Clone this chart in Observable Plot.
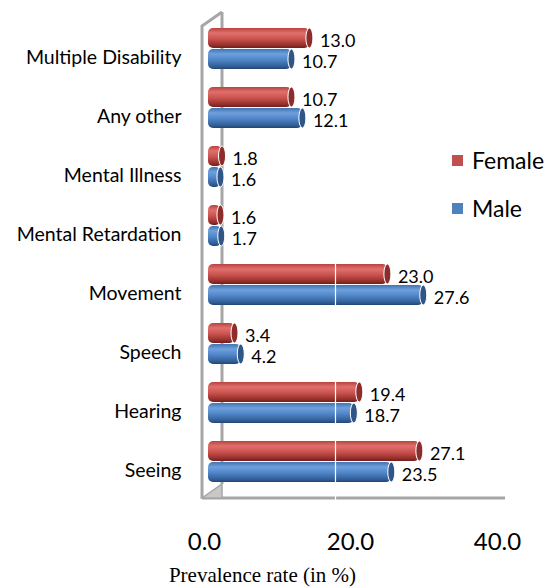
<!DOCTYPE html>
<html>
<head>
<meta charset="utf-8">
<script src="https://cdn.jsdelivr.net/npm/d3@7"></script>
<script src="https://cdn.jsdelivr.net/npm/@observablehq/plot@0.6"></script>
<style>
  body { margin: 0; background: #fff; }
  #wrap { position: relative; width: 552px; height: 587px; font-family: Lato, "Open Sans", sans-serif; }
  #legend { position: absolute; left: 452px; top: 136px; font-size: 23px; color: #000; }
  #legend .item { display: flex; align-items: center; height: 48px; }
  #legend .sw { width: 11px; height: 11px; margin-right: 9px; }
  #caption { position: absolute; left: 0; width: 525px; top: 563px; text-align: center;
             font-family: "Liberation Serif", "Times New Roman", serif; font-size: 21px; }
</style>
</head>
<body>
<div id="wrap">
  <div id="chart"></div>
  <div id="legend"></div>
  <div id="caption">Prevalence rate (in %)</div>
</div>
<script>
const categories = ["Multiple Disability", "Any other", "Mental Illness", "Mental Retardation",
                    "Movement", "Speech", "Hearing", "Seeing"];
const female = [13.0, 10.7, 1.8, 1.6, 23.0, 3.4, 19.4, 27.1];
const male   = [10.7, 12.1, 1.6, 1.7, 27.6, 4.2, 18.7, 23.5];
const xTicks = [0, 20, 40];
const seriesNames = ["Female", "Male"];
const seriesColors = ["#c0504d", "#4f81bd"];

const fData = categories.map((c, i) => ({cat: c, v: female[i]}));
const mData = categories.map((c, i) => ({cat: c, v: male[i]}));

const W = 552, H = 560;
const tickFont = {fontSize: 24, fontFamily: "Lato, sans-serif"};

const chart = Plot.plot({
  width: W, height: H,
  marginLeft: 208, marginRight: 32, marginTop: 10, marginBottom: 60,
  style: {fontFamily: "Lato, sans-serif", color: "#000", background: "transparent", overflow: "visible"},
  x: {domain: [0, 40], axis: null},
  y: {domain: categories, paddingInner: 0.305, paddingOuter: 0.305, axis: null},
  marks: [
    Plot.axisY({tickSize: 0, tickPadding: 27, dy: 9, fontSize: 19.5, label: null}),
    // bars
    Plot.barX(fData, {x: "v", y: "cat", insetBottom: 21, fill: "url(#gF)", rx: 5}),
    Plot.barX(mData, {x: "v", y: "cat", insetTop: 21, fill: "url(#gM)", rx: 5}),
    // white gridline
    Plot.ruleX([20], {stroke: "#fff", strokeWidth: 1.2, dx: -29}),
    // end caps
    Plot.barX(fData, {x1: d => d.v - 0.45, x2: d => d.v + 0.45, y: "cat", insetBottom: 21,
      fill: "#8c2d2b", stroke: "#fff", strokeWidth: 1, rx: 3.5, ry: 10}),
    Plot.barX(mData, {x1: d => d.v - 0.45, x2: d => d.v + 0.45, y: "cat", insetTop: 21,
      fill: "#2f5687", stroke: "#fff", strokeWidth: 1, rx: 3.5, ry: 10}),
    // value labels
    Plot.text(fData, {x: "v", y: "cat", text: d => d.v.toFixed(1), dx: 10, dy: -8,
      textAnchor: "start", fontSize: 18, fill: "#000"}),
    Plot.text(mData, {x: "v", y: "cat", text: d => d.v.toFixed(1), dx: 10, dy: 13,
      textAnchor: "start", fontSize: 18, fill: "#000"}),
    // x tick labels (perspective offsets)
    Plot.axisX([xTicks[0]], {tickSize: 0, tickPadding: 32, dx: -4, tickFormat: d => d.toFixed(1), label: null, ...tickFont}),
    Plot.axisX([xTicks[1]], {tickSize: 0, tickPadding: 32, dx: -14, tickFormat: d => d.toFixed(1), label: null, ...tickFont}),
    Plot.axisX([xTicks[2]], {tickSize: 0, tickPadding: 32, dx: -23, tickFormat: d => d.toFixed(1), label: null, ...tickFont})
  ]
});

// gradients for cylinder look
const svg = d3.select(chart);
const defs = svg.insert("defs", ":first-child");
function grad(id, stops) {
  const g = defs.append("linearGradient").attr("id", id).attr("x1", 0).attr("y1", 0).attr("x2", 0).attr("y2", 1);
  stops.forEach(([o, c]) => g.append("stop").attr("offset", o).attr("stop-color", c));
}
grad("gF", [[0, "#b8433f"], [0.25, "#e0706c"], [0.55, "#c9524e"], [0.85, "#98302d"], [1, "#6e1f1d"]]);
grad("gM", [[0, "#4273b2"], [0.25, "#6fa0dd"], [0.55, "#4f84c6"], [0.85, "#33609a"], [1, "#234672"]]);

// 3D frame (walls) drawn behind the bars, positioned from the scales
const sx = chart.scale("x"), sy = chart.scale("y");
const x0 = sx.apply(0), x40 = sx.apply(40);
const [yTop, yBot] = sy.range;
const frame = svg.insert("g", "g").attr("fill", "none").attr("stroke", "#a6a6a6").attr("stroke-width", 3);
const fx = x0 - 6, bx = x0 + 14, fy0 = yTop + 16, by0 = yTop + 2, floorY = yBot - 2;
frame.append("path").attr("d", `M${bx},${by0}V${floorY - 14}`);
frame.append("path").attr("d", `M${fx},${floorY}V${fy0}L${bx},${by0}`);
frame.append("path").attr("d", `M${fx},${floorY}H${x40 - 15}`);
frame.append("path").attr("d", `M${fx},${floorY}L${bx},${floorY - 14}V${floorY}Z`).attr("fill", "#c8c8c8").attr("stroke-width", 1.5);

document.getElementById("chart").appendChild(chart);

const legend = document.getElementById("legend");
seriesNames.forEach((n, i) => {
  const it = document.createElement("div");
  it.className = "item";
  it.innerHTML = `<span class="sw" style="background:${seriesColors[i]}"></span><span>${n}</span>`;
  legend.appendChild(it);
});
</script>
</body>
</html>
